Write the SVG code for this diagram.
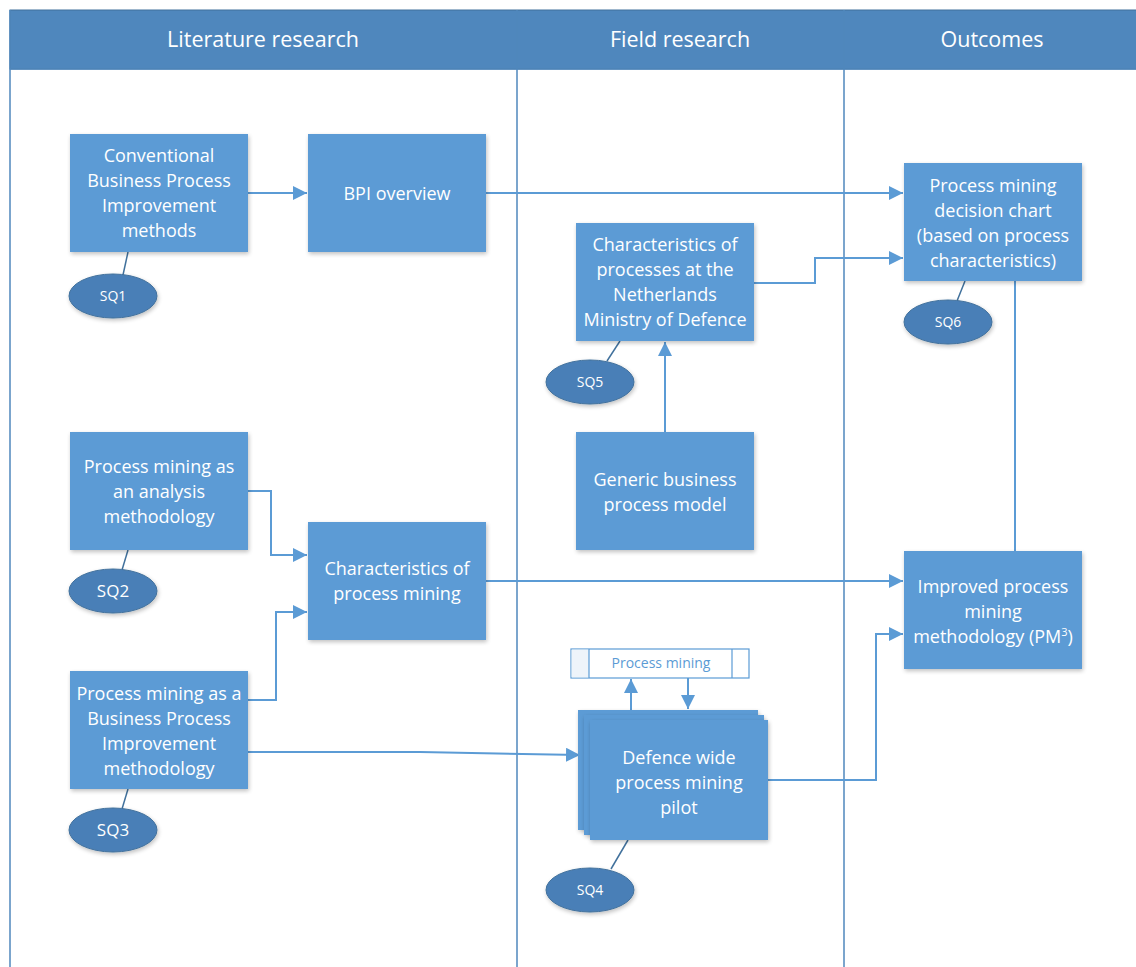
<svg xmlns="http://www.w3.org/2000/svg" width="1136" height="967" viewBox="0 0 1136 967">
<defs>
<marker id="a" viewBox="0 0 10 10" refX="10" refY="5" markerWidth="14" markerHeight="14" orient="auto" markerUnits="userSpaceOnUse">
<path d="M0,0 L10,5 L0,10 z" fill="#5b9bd5"/>
</marker>
<filter id="sh" x="-10%" y="-10%" width="130%" height="130%">
<feGaussianBlur in="SourceAlpha" stdDeviation="2"/>
<feOffset dx="1" dy="2"/>
<feComponentTransfer><feFuncA type="linear" slope="0.25"/></feComponentTransfer>
<feMerge><feMergeNode/><feMergeNode in="SourceGraphic"/></feMerge>
</filter>
</defs>
<style>
.hdr{fill:#4f87bd;stroke:#41719c;stroke-width:1}
.hdrt{font-family:"Open Sans","Liberation Sans",sans-serif;font-size:21.5px;fill:#ffffff;text-anchor:middle}
.lane{fill:none;stroke:#4f87bd;stroke-width:1.5}
.box{fill:#5b9bd5;filter:url(#sh)}
.bt{font-family:"Open Sans","Liberation Sans",sans-serif;font-size:18px;fill:#ffffff;text-anchor:middle}
.sq{fill:#4a7fb7;stroke:#41719c;stroke-width:1;filter:url(#sh)}
.sqt{font-family:"Open Sans","Liberation Sans",sans-serif;font-size:14px;fill:#ffffff;text-anchor:middle}
.sqt.big{font-size:17px}
.c{fill:none;stroke:#5b9bd5;stroke-width:2}
.ca{fill:none;stroke:#5b9bd5;stroke-width:2;marker-end:url(#a)}
.tick{fill:none;stroke:#41719c;stroke-width:1.5}
</style>
<rect width="1136" height="967" fill="#ffffff"/>
<g id="swimlanes">
<rect class="hdr" x="10" y="10" width="1130" height="59"/>
<line class="lane" x1="10" y1="10" x2="10" y2="967"/>
<line class="lane" x1="517" y1="10" x2="517" y2="967"/>
<line class="lane" x1="844" y1="10" x2="844" y2="967"/>
<line class="lane" x1="10" y1="69" x2="1136" y2="69"/>
<text class="hdrt" x="263" y="47">Literature research</text>
<text class="hdrt" x="680" y="47">Field research</text>
<text class="hdrt" x="992" y="47">Outcomes</text>
</g>
<g id="connectors">
<path class="ca" d="M248,193 H307"/>
<path class="ca" d="M486,193 H903"/>
<path class="ca" d="M754,283 H815 V258 H903"/>
<path class="ca" d="M665,432 V342"/>
<path class="ca" d="M248,491 H271 V555 H307"/>
<path class="ca" d="M248,700 H276 V612 H307"/>
<path class="ca" d="M486,581 H903"/>
<path class="c" d="M1015,281 V551"/>
<path class="ca" d="M248,752 H420 L580,755"/>
<path class="ca" d="M768,780 H876 V634 H903"/>
<path class="ca" d="M631,710 V679"/>
<path class="ca" d="M688,678 V709"/>
<path class="tick" d="M128,252 L123,275"/>
<path class="tick" d="M128,550 L122,570"/>
<path class="tick" d="M128,789 L122,809"/>
<path class="tick" d="M620,341 L607,361"/>
<path class="tick" d="M965,281 L957,301"/>
<path class="tick" d="M628,840 L611,869"/>
</g>
<g id="n-conventional">
<rect class="box" x="70" y="134" width="178" height="118"/>
<text class="bt" x="159" y="162">Conventional</text>
<text class="bt" x="159" y="187">Business Process</text>
<text class="bt" x="159" y="212">Improvement</text>
<text class="bt" x="159" y="237">methods</text>
</g>
<g id="n-bpi">
<rect class="box" x="308" y="134" width="178" height="118"/>
<text class="bt" x="397" y="200">BPI overview</text>
</g>
<g id="n-decision">
<rect class="box" x="904" y="163" width="178" height="118"/>
<text class="bt" x="993" y="192">Process mining</text>
<text class="bt" x="993" y="217">decision chart</text>
<text class="bt" x="993" y="242">(based on process</text>
<text class="bt" x="993" y="267">characteristics)</text>
</g>
<g id="n-charproc">
<rect class="box" x="576" y="223" width="178" height="118"/>
<text class="bt" x="665" y="251">Characteristics of</text>
<text class="bt" x="665" y="276">processes at the</text>
<text class="bt" x="665" y="301">Netherlands</text>
<text class="bt" x="665" y="326">Ministry of Defence</text>
</g>
<g id="n-generic">
<rect class="box" x="576" y="432" width="178" height="118"/>
<text class="bt" x="665" y="486">Generic business</text>
<text class="bt" x="665" y="511">process model</text>
</g>
<g id="n-pmanalysis">
<rect class="box" x="70" y="432" width="178" height="118"/>
<text class="bt" x="159" y="473">Process mining as</text>
<text class="bt" x="159" y="498">an analysis</text>
<text class="bt" x="159" y="523">methodology</text>
</g>
<g id="n-charpm">
<rect class="box" x="308" y="522" width="178" height="118"/>
<text class="bt" x="397" y="575">Characteristics of</text>
<text class="bt" x="397" y="600">process mining</text>
</g>
<g id="n-improved">
<rect class="box" x="904" y="551" width="178" height="118"/>
<text class="bt" x="993" y="593">Improved process</text>
<text class="bt" x="993" y="618">mining</text>
<text class="bt" x="993" y="643">methodology (PM<tspan font-size="11" dy="-7">3</tspan><tspan dy="7">)</tspan></text>
</g>
<g id="n-pmbpi">
<rect class="box" x="70" y="671" width="178" height="118"/>
<text class="bt" x="159" y="700">Process mining as a</text>
<text class="bt" x="159" y="725">Business Process</text>
<text class="bt" x="159" y="750">Improvement</text>
<text class="bt" x="159" y="775">methodology</text>
</g>
<g id="n-pmbar">
<rect x="571" y="649" width="178" height="29" fill="#ffffff" stroke="#5b9bd5" stroke-width="1.2"/>
<rect x="571.6" y="649.6" width="17.4" height="27.8" fill="#eef4fa"/>
<line x1="589" y1="649" x2="589" y2="678" stroke="#5b9bd5" stroke-width="1.2"/>
<line x1="732" y1="649" x2="732" y2="678" stroke="#5b9bd5" stroke-width="1.2"/>
<text x="661" y="668" font-family="'Open Sans','Liberation Sans',sans-serif" font-size="14" fill="#5b9bd5" text-anchor="middle">Process mining</text>
</g>
<g id="n-pilot">
<rect class="box" x="578" y="710" width="180" height="120"/>
<rect class="box" x="584" y="715" width="180" height="120"/>
<rect class="box" x="590" y="720" width="178" height="120"/>
<text class="bt" x="679" y="764">Defence wide</text>
<text class="bt" x="679" y="789">process mining</text>
<text class="bt" x="679" y="814">pilot</text>
</g>
<g id="n-sq1"><ellipse class="sq" cx="113" cy="296" rx="44" ry="22"/><text class="sqt" x="113" y="301">SQ1</text></g>
<g id="n-sq2"><ellipse class="sq" cx="113" cy="591" rx="44" ry="22"/><text class="sqt big" x="113" y="597">SQ2</text></g>
<g id="n-sq3"><ellipse class="sq" cx="113" cy="830" rx="44" ry="22"/><text class="sqt big" x="113" y="836">SQ3</text></g>
<g id="n-sq5"><ellipse class="sq" cx="590" cy="382" rx="44" ry="22"/><text class="sqt" x="590" y="387">SQ5</text></g>
<g id="n-sq6"><ellipse class="sq" cx="948" cy="322" rx="44" ry="22"/><text class="sqt" x="948" y="327">SQ6</text></g>
<g id="n-sq4"><ellipse class="sq" cx="590" cy="890" rx="44" ry="22"/><text class="sqt" x="590" y="895">SQ4</text></g>
</svg>
